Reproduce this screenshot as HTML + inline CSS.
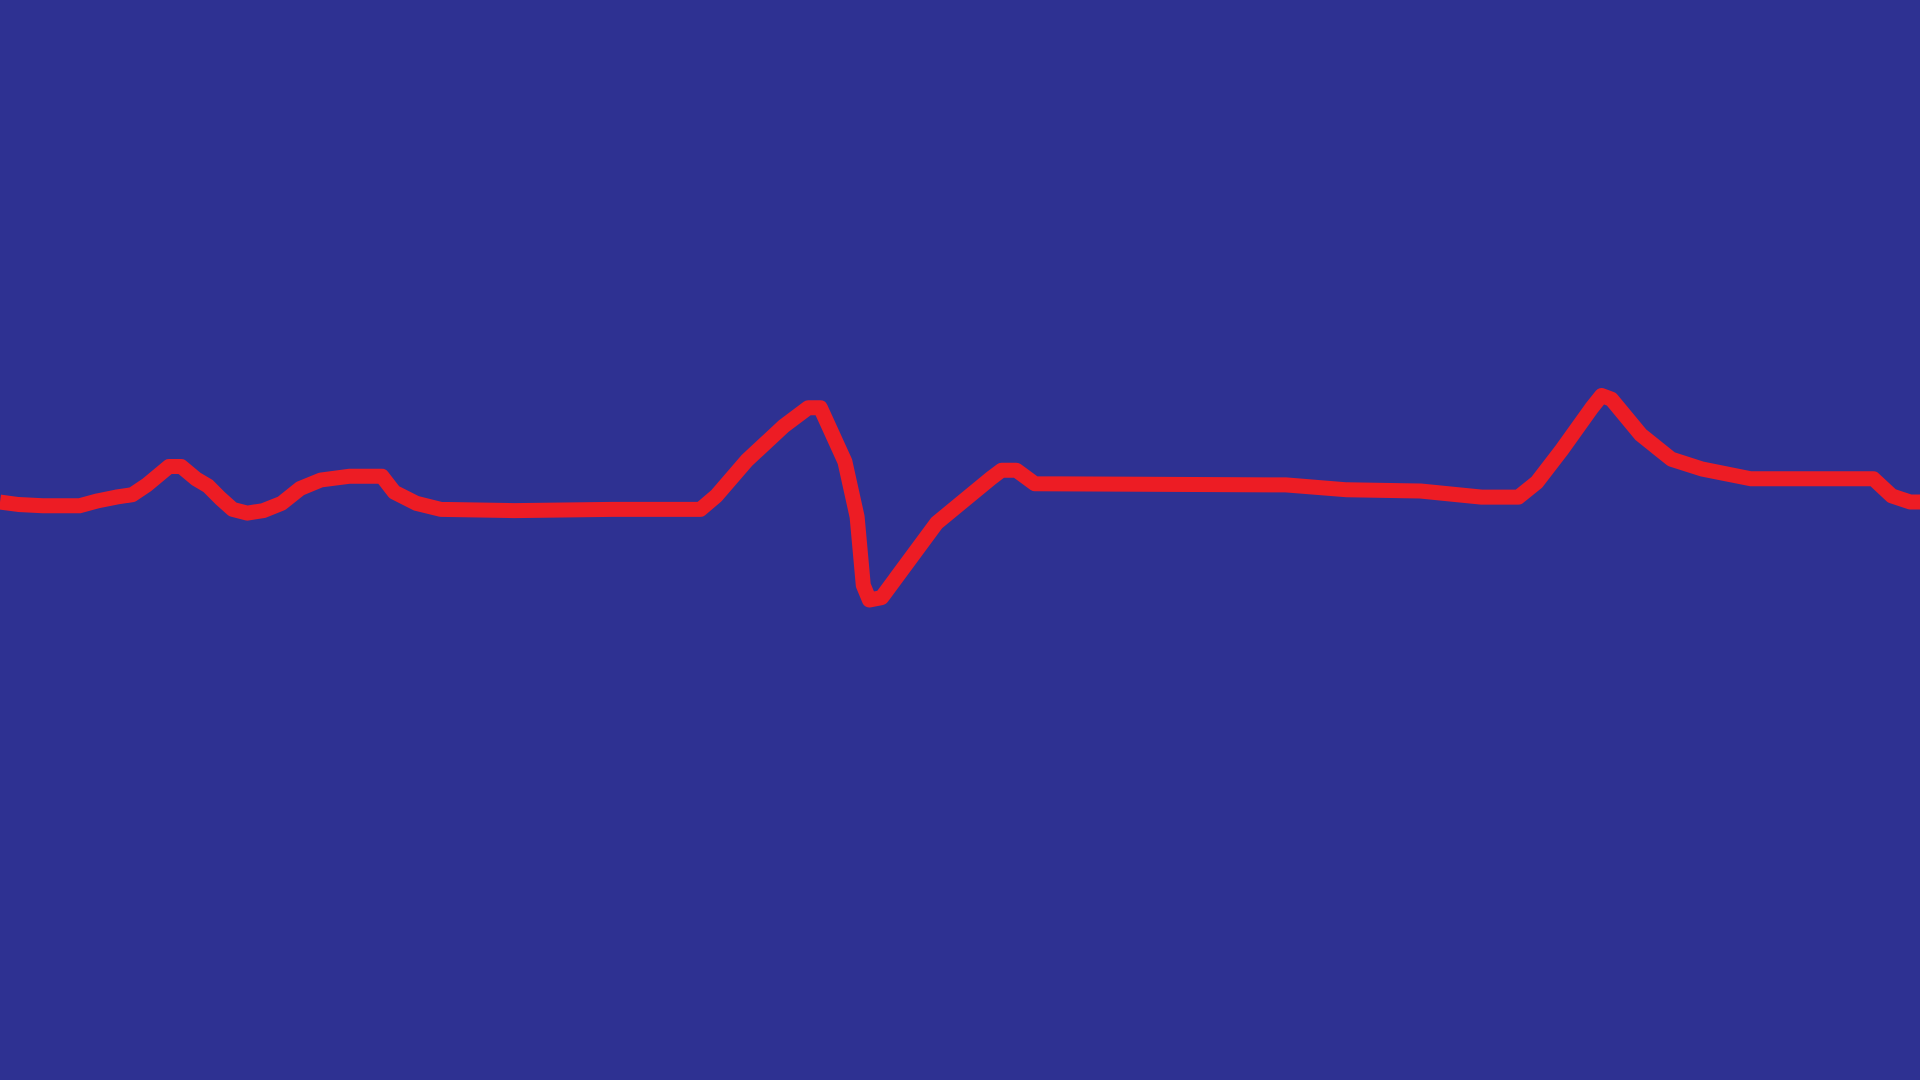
<!DOCTYPE html>
<html><head><meta charset="utf-8"><style>
html,body{margin:0;padding:0;width:1920px;height:1080px;overflow:hidden;background:#2e3192;}
svg{display:block;}
</style></head>
<body>
<svg id="chart" width="1920" height="1080" viewBox="0 0 1920 1080">
<rect x="0" y="0" width="1920" height="1080" fill="#2e3192"/>
</svg>
<script>
// time samples (reference units 0..1568)
const times = [0,15,35,65,80,95,108,120,138,148,160,170,180,190,202,215,230,245,262,285,312,322,340,360,420,500,572,585,610,640,660,670,690,700,705,710,720,765,810,818,830,845,1050,1100,1160,1210,1240,1255,1275,1300,1308,1316,1340,1365,1390,1430,1530,1545,1560,1568];
// signal amplitude (positive = up)
const values = [31,29,28,28,32,35,37,45,60,60,50,44,34,25,22,24,30,42,49,52,52,39,30,25,24,25,25,36,65,93,108,108,64,19,-37,-49,-47,14,51,57,57,46,45,41,40,35,35,47,73,108,118,115,86,66,58,50,50,36,31,31];
const sx = 1920/1568, sy = 1080/882;
function xScale(t){ return t*sx; }
function yScale(v){ return (441 - v)*sy; }
const svg = document.getElementById('chart');
const ns = 'http://www.w3.org/2000/svg';
let d = '';
for (let i=0;i<times.length;i++){
  d += (i?'L':'M') + xScale(times[i]).toFixed(1) + ',' + yScale(values[i]).toFixed(1);
}
const path = document.createElementNS(ns,'path');
path.setAttribute('d', d);
path.setAttribute('fill','none');
path.setAttribute('stroke','#ed1c24');
path.setAttribute('stroke-width','15');
path.setAttribute('stroke-linejoin','round');
path.setAttribute('stroke-linecap','butt');


svg.appendChild(path);
</script>
</body></html>
